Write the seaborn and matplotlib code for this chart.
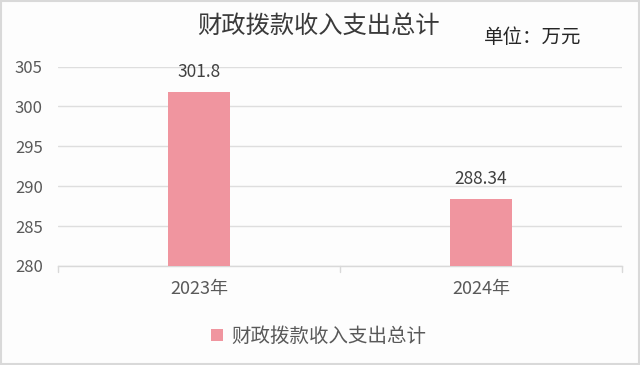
import matplotlib
matplotlib.use('Agg')
import matplotlib.pyplot as plt
import seaborn as sns
import pandas as pd
from matplotlib.patches import Patch, Rectangle

# 数据
anos = ['2023年', '2024年']
valores = [301.8, 288.34]
serie = '财政拨款收入支出总计'

df = pd.DataFrame({'ano': anos, 'valor': valores})

sns.set_style('white')
plt.rcParams['font.family'] = ['Noto Sans CJK SC', 'DejaVu Sans']

cor_barra = '#F0959F'
cor_texto = '#595959'
cor_grade = '#DEDEDE'

fig = plt.figure(figsize=(6.4, 3.65), dpi=100)
fig.patch.set_facecolor('#FDFDFD')
ax = fig.add_axes([58 / 640, 1 - 266 / 365, 564 / 640, 199.5 / 365])
ax.set_facecolor('#FDFDFD')

# borda do gráfico
fig.patches.append(Rectangle((0.002, 0.003), 0.996, 0.994, transform=fig.transFigure,
                             fill=False, edgecolor='#D9D9D9', linewidth=1.5))

sns.barplot(data=df, x='ano', y='valor', color=cor_barra, width=0.22,
            saturation=1, linewidth=0, ax=ax, zorder=3)

ax.set_ylim(280, 305)
ax.set_xlim(-0.5, 1.5)
ax.set_yticks(range(280, 306, 5))
ax.grid(axis='y', color=cor_grade, linewidth=1, zorder=0)
ax.set_xlabel('')
ax.set_ylabel('')

for s in ['top', 'right', 'left']:
    ax.spines[s].set_visible(False)
ax.spines['bottom'].set_color('#D9D9D9')
ax.spines['bottom'].set_linewidth(1)

# marcas de separação das categorias
for xs in [-0.5, 0.5, 1.5]:
    ax.plot([xs, xs], [0, -0.03], transform=ax.get_xaxis_transform(),
            color='#D9D9D9', linewidth=1, clip_on=False)

ax.tick_params(axis='y', length=0, labelsize=12, labelcolor=cor_texto, pad=11)
ax.tick_params(axis='x', length=0, labelsize=13, labelcolor=cor_texto, pad=10)

# rótulos de dados
for i, v in enumerate(valores):
    ax.text(i, v + 2.5, f'{v:g}', ha='center', va='center', fontsize=12.5, color='#404040')

fig.text(0.498, 0.929, serie, ha='center', va='center', fontsize=17.5, color='#3A3A3A')
fig.text(0.833, 0.896, '单位：万元', ha='center', va='center', fontsize=14, color='#262626')

handles = [Patch(facecolor=cor_barra, edgecolor='none', label=serie)]
fig.legend(handles=handles, loc='center', bbox_to_anchor=(0.498, 0.079), frameon=False,
           fontsize=14, handlelength=0.6, handleheight=0.6, handletextpad=0.4,
           labelcolor=cor_texto)

fig.savefig('out.png', dpi=100, facecolor=fig.get_facecolor())
